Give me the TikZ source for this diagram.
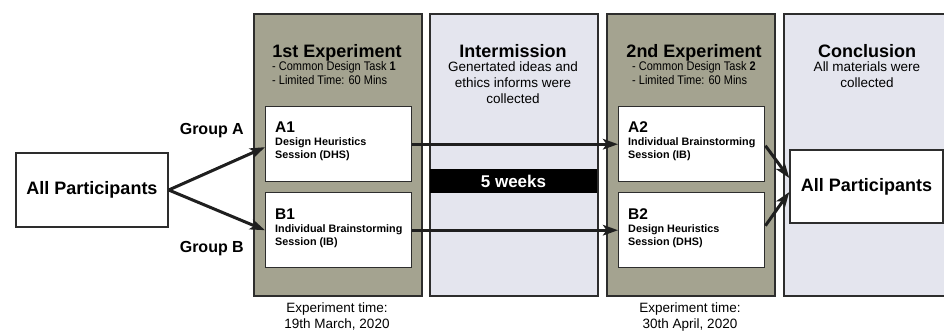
\documentclass[tikz,border=0pt]{standalone}
\usepackage{fontspec}
\setmainfont{Liberation Sans}
\newfontfamily\narrowfont[FakeStretch=0.88]{Liberation Sans}
\usepackage{tikz}
\usetikzlibrary{positioning}
\usetikzlibrary{arrows.meta}
\definecolor{expolive}{RGB}{164,163,144}
\definecolor{pauselilac}{RGB}{228,229,238}
\definecolor{edgegray}{RGB}{45,45,45}
\newcommand{\setfs}[2]{\fontsize{#1}{#2}\selectfont}

\begin{document}
\begin{tikzpicture}[x=1pt,y=-1pt,>={Stealth[length=15pt,width=10.5pt,inset=3.5pt]},
	panel/.style={draw=edgegray,line width=1.6pt,minimum width=168pt,minimum height=282pt,anchor=north west,inner sep=0pt},
	session/.style={draw=edgegray,fill=white,line width=1.4pt,minimum width=146pt,minimum height=75pt,anchor=north west,inner sep=0pt},
	crowd/.style={draw=edgegray,fill=white,line width=1.4pt,minimum width=152pt,minimum height=74pt,inner sep=0pt,font=\setfs{18}{18}\bfseries},
	head/.style={anchor=base,inner sep=0pt,font=\setfs{18}{18}\bfseries},
	note/.style={anchor=base west,inner sep=0pt,font=\narrowfont\setfs{12.5}{12.5}},
	body/.style={anchor=north,align=center,inner sep=0pt,font=\setfs{13.5}{16}},
	tag/.style={anchor=base west,inner sep=0pt,font=\setfs{15.5}{16}\bfseries},
	sub/.style={align=left,inner sep=0pt,font=\setfs{10.8}{13}\bfseries},
	group/.style={anchor=base east,inner sep=0pt,font=\setfs{16}{16}\bfseries},
	flow/.style={->,draw=black!88,line width=3pt}]

	\useasboundingbox (0,0) rectangle (944,330);
	\clip (0,0) rectangle (944,330);

	% four stages
	\node[panel,fill=expolive] (exp1) at (253,13) {};
	\node[panel,fill=pauselilac] (pause) at (429,13) {};
	\node[panel,fill=expolive] (exp2) at (606,13) {};
	\node[panel,fill=pauselilac] (concl) at (783,13) {};

	\node[head] (exp1title) at (337,57) {1st Experiment};
	\node[note] (task1) at (272,70) {- Common Design Task \textbf{1}};
	\node[note] (limit1) at (272,84) {- Limited Time: 60 Mins};

	\node[head] (pausetitle) at (513,57) {Intermission};
	\node[body] (pausetext) at (513,62) {Genertated ideas and\\ethics informs were\\collected};
	\node[fill=black,text=white,minimum width=167pt,minimum height=24pt,inner sep=0pt,font=\setfs{17}{17}\bfseries] (gap) at (513.5,181) {5 weeks};

	\node[head] (exp2title) at (694,57) {2nd Experiment};
	\node[note] (task2) at (632,70) {- Common Design Task \textbf{2}};
	\node[note] (limit2) at (632,84) {- Limited Time: 60 Mins};

	\node[head] (concltitle) at (867,57) {Conclusion};
	\node[body] (concltext) at (867,62) {All materials were\\collected};

	% sessions
	\node[session] (a1) at (265,106) {};
	\node[session] (b1) at (265,192) {};
	\node[session] (a2) at (618,106) {};
	\node[session] (b2) at (618,192) {};

	\node[tag] (a1tag) at (275,132) {A1};
	\node[sub] (a1text) [below right=5pt and 0pt of a1tag.base west] {Design Heuristics\\Session (DHS)};
	\node[tag] (b1tag) at (275,219) {B1};
	\node[sub] (b1text) [below right=5pt and 0pt of b1tag.base west] {Individual Brainstorming\\Session (IB)};
	\node[tag] (a2tag) at (628,132) {A2};
	\node[sub] (a2text) [below right=5pt and 0pt of a2tag.base west] {Individual Brainstorming\\Session (IB)};
	\node[tag] (b2tag) at (628,219) {B2};
	\node[sub] (b2text) [below right=5pt and 0pt of b2tag.base west] {Design Heuristics\\Session (DHS)};

	% participants and groups
	\node[crowd] (allin) at (92,190) {All Participants};
	\node[crowd,minimum width=153pt,minimum height=73pt] (allout) at (866.5,186.5) {All Participants};
	\node[group] (grpa) at (244,134) {Group A};
	\node[group] (grpb) at (244,252) {Group B};

	\node[body] (date1) at (337,303) {Experiment time:\\19th March, 2020};
	\node[body] (date2) at (690,303) {Experiment time:\\30th April, 2020};

	\draw[flow] (allin.east) -- ([yshift=-3pt]a1.west);
	\draw[flow] (allin.east) -- (b1.west);
	\draw[flow] (a1) -- (a2);
	\draw[flow] (b1) -- (b2);
	\draw[flow] ([yshift=-1.5pt]a2.east) -- ([yshift=8.5pt]allout.west);
	\draw[flow] ([yshift=4.5pt]b2.east) -- ([yshift=-5.5pt]allout.west);
\end{tikzpicture}
\end{document}
